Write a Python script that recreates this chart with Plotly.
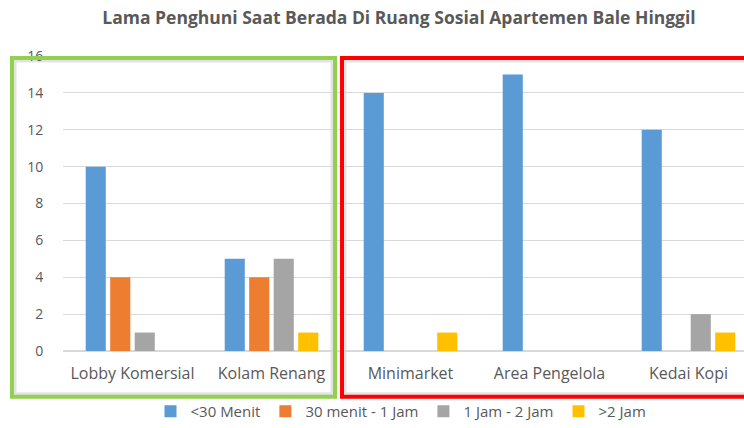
import plotly.graph_objects as go

categories = ["Lobby Komersial", "Kolam Renang", "Minimarket", "Area Pengelola", "Kedai Kopi"]
series_names = ["<30 Menit", "30 menit - 1 Jam", "1 Jam - 2 Jam", ">2 Jam"]
s_lt30 = [10, 5, 14, 15, 12]
s_30_60 = [4, 4, 0, 0, 0]
s_1_2 = [1, 5, 0, 0, 2]
s_gt2 = [0, 1, 1, 0, 1]
colors = ["#5B9BD5", "#ED7D31", "#A5A5A5", "#FFC000"]
y_ticks = [0, 2, 4, 6, 8, 10, 12, 14, 16]

FONT = "Open Sans"
fig = go.Figure()
for name, vals, col in zip(series_names, [s_lt30, s_30_60, s_1_2, s_gt2], colors):
    fig.add_trace(go.Bar(x=categories, y=vals, name=name, marker_color=col,
                         marker_line_width=0))

W, H = 744, 428
L, T, B = 63, 56, 76
pw, ph = W - L, H - T - B

def px(x):
    return (x - L) / pw

def py(y):
    return (H - B - y) / ph

shapes = []
# inner light-gray shading of boxes
shapes.append(dict(type="rect", xref="paper", yref="paper",
                   x0=px(15), x1=px(332), y0=py(395), y1=py(61),
                   line=dict(color="#E3E3E3", width=3), layer="below"))
shapes.append(dict(type="rect", xref="paper", yref="paper",
                   x0=px(345), x1=px(760), y0=py(395), y1=py(61),
                   line=dict(color="#E3E3E3", width=3), layer="below"))
shapes.append(dict(type="rect", xref="paper", yref="paper",
                   x0=px(12), x1=px(335), y0=py(398), y1=py(58),
                   line=dict(color="#92D050", width=4)))
shapes.append(dict(type="rect", xref="paper", yref="paper",
                   x0=px(342), x1=px(760), y0=py(398), y1=py(58),
                   line=dict(color="#FF0000", width=4)))

fig.update_layout(
    width=W, height=H,
    margin=dict(l=L, r=0, t=T, b=B),
    paper_bgcolor="white", plot_bgcolor="white",
    barmode="group", bargap=0.295, bargroupgap=0.18,
    font=dict(family=FONT, color="#595959", size=13),
    title=dict(text="<b>Lama Penghuni Saat Berada Di Ruang Sosial Apartemen Bale Hinggil</b>",
               x=399 / W, xanchor="center", y=1 - 18 / H, yanchor="middle",
               font=dict(family=FONT, size=17.5, color="#595959")),
    legend=dict(orientation="h", x=px(401), xanchor="center", y=py(413), yanchor="middle",
                font=dict(family=FONT, size=15, color="#595959"),
                bgcolor="rgba(0,0,0,0)",
                itemwidth=30, traceorder="normal"),
    shapes=shapes,
    showlegend=True,
)
fig.update_xaxes(range=[-0.5, -0.5 + pw / 139], showgrid=False, showline=False,
                 ticks="outside", ticklen=8, tickcolor="rgba(0,0,0,0)",
                 tickfont=dict(family=FONT, size=16, color="#595959"))
fig.update_yaxes(range=[0, 16], tickvals=y_ticks, showgrid=True, gridcolor="#D9D9D9",
                 gridwidth=1, zeroline=True, zerolinecolor="#D9D9D9", showline=False,
                 ticks="outside", ticklen=16, tickcolor="rgba(0,0,0,0)",
                 tickfont=dict(family=FONT, size=14, color="#595959"))

fig.write_html("out.html", config={"displayModeBar": False},
               post_script="document.body.style.margin='0';document.body.style.padding='0';")
